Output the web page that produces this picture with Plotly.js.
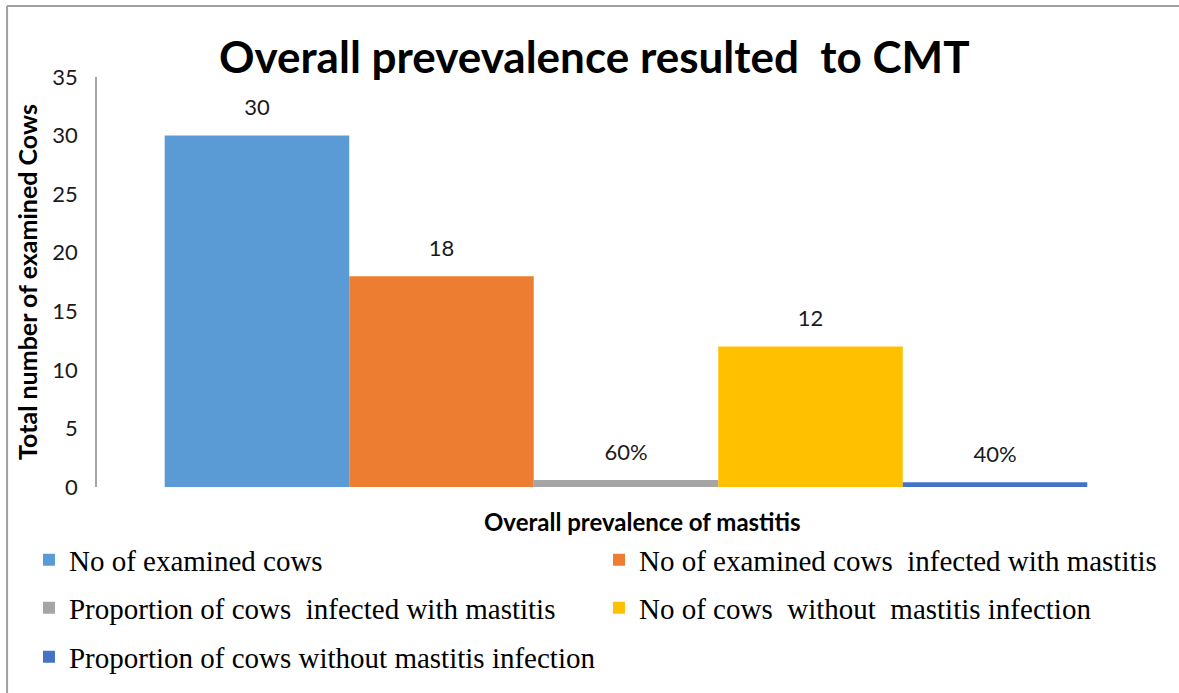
<!DOCTYPE html>
<html>
<head>
<meta charset="utf-8">
<script src="https://cdn.plot.ly/plotly-3.0.1.min.js"></script>
<style>html,body{margin:0;padding:0;background:#fff;} #chart{width:1179px;height:693px;}</style>
</head>
<body>
<div id="chart"></div>
<script>
const category = ["Overall prevalence of mastitis"];
const seriesNames = [
  "No of examined cows",
  "No of examined cows  infected with mastitis",
  "Proportion of cows  infected with mastitis",
  "No of cows  without  mastitis infection",
  "Proportion of cows without mastitis infection"
];
const seriesValues = [30, 18, 0.6, 12, 0.4];
const dataLabels = ["30", "18", "60%", "12", "40%"];
const seriesColors = ["#5B9BD5", "#ED7D31", "#A5A5A5", "#FFC000", "#4472C4"];
const yTicks = [0, 5, 10, 15, 20, 25, 30, 35];

const legendIds = ["legend", "legend2", "legend3", "legend4", "legend5"];
const legendCol = [-0.0643, 0.4745, -0.0643, 0.4745, -0.0643];
const legendRow = [-0.1752, -0.1752, -0.292, -0.292, -0.411];

const sansFont = "Lato, 'Open Sans', sans-serif";

const barTraces = seriesNames.map((name, i) => ({
  type: "bar",
  name: name,
  x: category,
  y: [seriesValues[i]],
  offsetgroup: "g" + i,
  marker: {color: seriesColors[i]},
  legend: legendIds[i],
  hoverinfo: "name+y"
}));

const labelTraces = seriesNames.map((name, i) => ({
  type: "scatter",
  mode: "markers+text",
  name: name + " label",
  x: category,
  y: [seriesValues[i]],
  text: [dataLabels[i]],
  textposition: "top center",
  textfont: {family: sansFont, size: 22, color: "#1a1a1a"},
  marker: {size: 22, opacity: 0, color: seriesColors[i]},
  offsetgroup: "g" + i,
  cliponaxis: false,
  showlegend: false,
  hoverinfo: "skip"
}));

const legendBase = {
  orientation: "v",
  xanchor: "left",
  yanchor: "middle",
  font: {family: "'Liberation Serif', 'Times New Roman', serif", size: 29, color: "#000"},
  bgcolor: "rgba(0,0,0,0)",
  itemclick: false,
  itemdoubleclick: false
};

const layout = {
  width: 1179,
  height: 693,
  paper_bgcolor: "#fff",
  plot_bgcolor: "#fff",
  margin: {l: 97, r: 24, t: 77, b: 205},
  barmode: "group",
  bargap: 0.128,
  bargroupgap: 0,
  scattermode: "group",
  scattergap: 0.128,
  showlegend: true,
  title: {
    text: "<b>Overall prevevalence resulted  to CMT</b>",
    font: {family: sansFont, size: 44, color: "#000"},
    x: 0.47, xanchor: "center", xref: "paper",
    y: 0.917, yanchor: "middle"
  },
  xaxis: {
    type: "category",
    showticklabels: false,
    showline: false,
    showgrid: false,
    zeroline: false,
    ticks: ""
  },
  yaxis: {
    range: [0, 35],
    tickvals: yTicks,
    ticktext: yTicks.map(String),
    showgrid: false,
    zeroline: false,
    showline: true,
    linecolor: "#A6A6A6",
    linewidth: 1.5,
    ticks: "",
    ticklabelstandoff: 13,
    tickfont: {family: sansFont, size: 22, color: "#1a1a1a"},
    title: {
      text: "<b>Total number of examined Cows</b>",
      font: {family: sansFont, size: 25, color: "#000"},
      standoff: 8
    }
  },
  annotations: [{
    text: "<b>" + category[0] + "</b>",
    xref: "paper", yref: "paper",
    x: 0.516, y: -0.085,
    xanchor: "center", yanchor: "middle",
    showarrow: false,
    font: {family: sansFont, size: 24, color: "#000"}
  }],
  shapes: [
    {type: "line", xref: "paper", yref: "paper", x0: -0.085, x1: 1.03, y0: 1.173, y1: 1.173,
     line: {color: "#A0A0A0", width: 2}},
    {type: "line", xref: "paper", yref: "paper", x0: -0.085, x1: -0.085, y0: 1.173, y1: -0.51,
     line: {color: "#A0A0A0", width: 2}}
  ]
};

legendIds.forEach((id, i) => {
  layout[id] = Object.assign({}, legendBase, {x: legendCol[i], y: legendRow[i]});
});

Plotly.newPlot("chart", barTraces.concat(labelTraces), layout, {displayModeBar: false, responsive: false});
</script>
</body>
</html>
